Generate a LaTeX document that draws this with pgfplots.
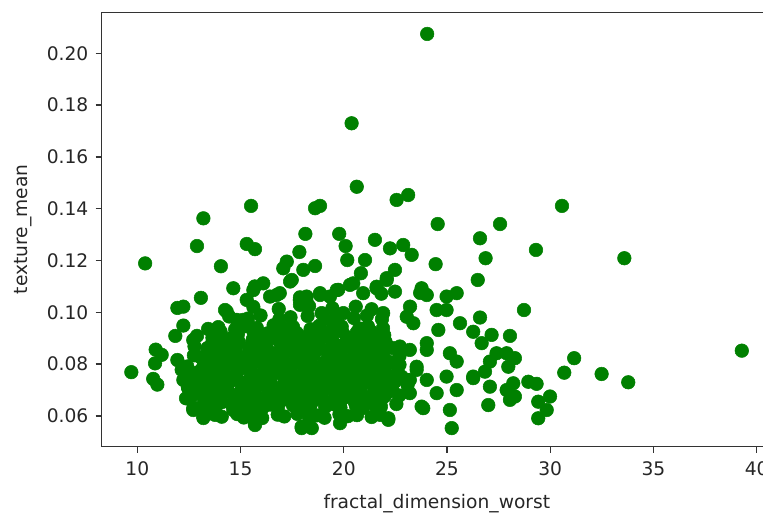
\documentclass[border=0pt]{standalone}
\usepackage{fontspec}
\setmainfont{DejaVu Sans}
\usepackage{pgfplots}
\pgfplotsset{compat=1.18}
\usepackage{pgfplotstable}
\definecolor{mplgreen}{HTML}{008000}

\pgfplotstableread{
x y
24.04 0.2075
20.38 0.1730
20.63 0.1485
22.56 0.1434
23.12 0.1453
15.51 0.1411
18.61 0.1402
18.85 0.1411
30.57 0.1411
13.20 0.1363
24.55 0.1341
27.57 0.1341
18.14 0.1303
19.78 0.1303
26.60 0.1286
21.51 0.1280
15.30 0.1264
15.70 0.1244
12.89 0.1256
20.09 0.1256
22.24 0.1247
22.88 0.1260
29.31 0.1241
17.85 0.1233
23.29 0.1222
26.87 0.1209
33.59 0.1209
20.17 0.1202
21.03 0.1202
17.24 0.1196
10.38 0.1189
24.45 0.1186
18.61 0.1179
14.05 0.1178
17.07 0.1170
22.48 0.1164
18.04 0.1164
20.83 0.1151
22.08 0.1132
26.49 0.1125
17.48 0.1125
17.40 0.1119
16.10 0.1112
20.30 0.1106
20.46 0.1112
22.08 0.1125
14.65 0.1093
15.62 0.1086
15.69 0.1100
21.59 0.1093
21.59 0.1099
23.77 0.1093
19.66 0.1086
19.73 0.1087
16.75 0.1067
16.43 0.1061
16.90 0.1074
18.85 0.1067
18.85 0.1074
19.33 0.1061
20.94 0.1074
21.82 0.1072
22.48 0.1080
23.70 0.1075
24.02 0.1067
24.98 0.1061
25.47 0.1074
17.88 0.1058
18.20 0.1061
13.08 0.1056
18.20 0.1041
15.30 0.1048
17.87 0.1048
17.88 0.1029
23.21 0.1022
12.23 0.1022
11.94 0.1017
24.50 0.1009
24.98 0.1009
14.25 0.1009
14.33 0.1003
28.73 0.1009
18.93 0.0997
19.98 0.0997
21.91 0.0997
23.05 0.0983
26.60 0.0980
14.81 0.0971
15.13 0.0971
23.37 0.0958
25.63 0.0958
12.23 0.0949
24.58 0.0932
26.27 0.0925
27.16 0.0913
28.05 0.0909
11.84 0.0909
12.71 0.0893
24.02 0.0881
26.68 0.0881
22.72 0.0868
10.89 0.0856
24.02 0.0855
23.20 0.0855
39.28 0.0852
25.14 0.0842
27.40 0.0842
27.89 0.0842
11.18 0.0836
28.29 0.0823
31.16 0.0823
11.94 0.0816
25.47 0.0810
27.08 0.0810
10.86 0.0803
27.97 0.0790
23.53 0.0790
23.53 0.0778
12.15 0.0778
26.84 0.0771
9.71 0.0769
30.68 0.0767
32.49 0.0762
26.27 0.0752
24.98 0.0752
22.80 0.0752
26.27 0.0746
10.77 0.0743
23.05 0.0739
23.20 0.0739
24.02 0.0739
12.23 0.0739
29.34 0.0724
28.94 0.0732
33.78 0.0730
28.21 0.0726
10.97 0.0721
12.47 0.0707
27.08 0.0713
27.89 0.0700
25.47 0.0700
24.50 0.0688
23.20 0.0688
28.29 0.0675
29.99 0.0675
12.36 0.0668
28.05 0.0662
29.42 0.0655
27.00 0.0642
23.77 0.0636
23.85 0.0630
25.14 0.0623
29.83 0.0623
12.71 0.0623
12.71 0.0630
13.52 0.0610
15.13 0.0610
14.65 0.0623
13.20 0.0592
13.20 0.0597
22.16 0.0591
22.16 0.0585
29.42 0.0591
19.82 0.0572
15.70 0.0565
15.69 0.0572
17.96 0.0553
17.96 0.0559
18.45 0.0553
25.23 0.0553
13.77 0.0604
14.09 0.0597
14.84 0.0607
15.16 0.0594
15.72 0.0601
16.05 0.0592
16.80 0.0605
17.12 0.0598
17.75 0.0608
18.32 0.0595
18.68 0.0602
19.07 0.0593
19.79 0.0606
20.20 0.0599
20.64 0.0603
21.35 0.0596
21.77 0.0604
12.91 0.0630
13.47 0.0643
13.80 0.0636
14.55 0.0646
14.87 0.0633
15.50 0.0640
16.07 0.0631
16.43 0.0644
16.82 0.0637
17.54 0.0641
17.95 0.0634
18.39 0.0642
19.10 0.0635
19.52 0.0645
19.84 0.0632
20.59 0.0639
20.91 0.0630
21.47 0.0643
21.80 0.0636
22.55 0.0646
12.65 0.0678
13.22 0.0669
13.58 0.0682
13.97 0.0675
14.69 0.0679
15.10 0.0672
15.54 0.0680
16.25 0.0673
16.67 0.0683
16.99 0.0670
17.74 0.0677
18.06 0.0668
18.62 0.0681
18.95 0.0674
19.70 0.0684
20.02 0.0671
20.65 0.0678
21.22 0.0669
21.58 0.0682
21.97 0.0675
22.69 0.0679
12.45 0.0711
12.89 0.0721
13.60 0.0708
14.02 0.0715
14.34 0.0706
15.09 0.0719
15.41 0.0712
15.97 0.0722
16.30 0.0709
17.05 0.0716
17.37 0.0707
18.00 0.0720
18.57 0.0713
18.93 0.0717
19.32 0.0710
20.04 0.0718
20.45 0.0711
20.89 0.0721
21.60 0.0708
22.02 0.0715
22.34 0.0706
23.09 0.0719
12.50 0.0747
12.82 0.0754
13.45 0.0745
14.02 0.0758
14.38 0.0751
14.77 0.0755
15.49 0.0748
15.90 0.0756
16.34 0.0749
17.05 0.0759
17.47 0.0746
17.79 0.0753
18.54 0.0744
18.86 0.0757
19.42 0.0750
19.75 0.0760
20.50 0.0747
20.82 0.0754
21.45 0.0745
22.02 0.0758
22.38 0.0751
12.42 0.0791
13.14 0.0782
13.55 0.0795
13.99 0.0788
14.70 0.0798
15.12 0.0785
15.44 0.0792
16.19 0.0783
16.51 0.0796
17.07 0.0789
17.40 0.0793
18.15 0.0786
18.47 0.0794
19.10 0.0787
19.67 0.0797
20.03 0.0784
20.42 0.0791
21.14 0.0782
21.55 0.0795
21.99 0.0788
22.70 0.0798
12.74 0.0834
13.06 0.0827
13.62 0.0831
13.95 0.0824
14.70 0.0832
15.02 0.0825
15.65 0.0835
16.22 0.0822
16.58 0.0829
16.97 0.0820
17.69 0.0833
18.10 0.0826
18.54 0.0836
19.25 0.0823
19.67 0.0830
19.99 0.0821
20.74 0.0834
21.06 0.0827
21.62 0.0831
21.95 0.0824
22.70 0.0832
12.77 0.0869
13.40 0.0862
13.97 0.0870
14.33 0.0863
14.72 0.0873
15.44 0.0860
15.85 0.0867
16.29 0.0858
17.00 0.0871
17.42 0.0864
17.74 0.0874
18.49 0.0861
18.81 0.0868
19.37 0.0859
19.70 0.0872
20.45 0.0865
20.77 0.0869
21.40 0.0862
21.97 0.0870
22.33 0.0863
12.89 0.0909
13.64 0.0902
13.96 0.0912
14.52 0.0899
14.85 0.0906
15.60 0.0897
15.92 0.0910
16.55 0.0903
17.12 0.0907
17.48 0.0900
17.87 0.0908
18.59 0.0901
19.00 0.0911
19.44 0.0898
20.15 0.0905
20.57 0.0896
20.89 0.0909
21.64 0.0902
21.96 0.0912
13.43 0.0936
13.92 0.0943
14.74 0.0934
15.25 0.0947
15.79 0.0940
16.60 0.0950
17.12 0.0937
17.54 0.0944
18.39 0.0935
18.81 0.0948
19.47 0.0941
19.90 0.0945
20.75 0.0938
21.17 0.0946
21.90 0.0939
14.45 0.0984
15.36 0.0976
15.97 0.0988
16.88 0.0973
17.42 0.0981
18.25 0.0986
19.08 0.0975
19.63 0.0983
20.49 0.0978
21.12 0.0987
21.85 0.0974
15.62 0.1021
16.85 0.1013
18.32 0.1024
19.45 0.1016
20.58 0.1022
21.35 0.1012
13.42 0.0660
14.08 0.0653
14.73 0.0662
15.36 0.0655
16.04 0.0659
16.62 0.0651
17.27 0.0663
17.93 0.0656
18.57 0.0661
19.24 0.0652
19.86 0.0660
20.53 0.0654
21.14 0.0662
21.78 0.0657
13.13 0.0691
13.76 0.0699
14.42 0.0692
15.04 0.0700
15.68 0.0689
16.33 0.0697
16.96 0.0693
17.63 0.0701
18.27 0.0690
18.92 0.0698
19.54 0.0694
20.17 0.0699
20.83 0.0691
21.47 0.0697
22.18 0.0693
13.28 0.0737
13.93 0.0729
14.57 0.0736
15.22 0.0730
15.84 0.0738
16.47 0.0728
17.16 0.0735
17.81 0.0731
18.42 0.0739
19.07 0.0729
19.73 0.0734
20.31 0.0738
21.02 0.0730
21.68 0.0736
22.47 0.0732
12.93 0.0768
13.57 0.0775
14.22 0.0767
14.86 0.0774
15.53 0.0769
16.12 0.0776
16.78 0.0766
17.43 0.0773
18.06 0.0770
18.72 0.0777
19.33 0.0767
20.01 0.0774
20.62 0.0768
21.27 0.0775
21.93 0.0770
22.58 0.0766
13.22 0.0812
13.83 0.0805
14.47 0.0813
15.13 0.0806
15.77 0.0811
16.42 0.0804
17.08 0.0814
17.68 0.0807
18.33 0.0812
19.02 0.0805
19.58 0.0810
20.24 0.0813
20.87 0.0806
21.52 0.0811
22.28 0.0807
13.48 0.0850
14.12 0.0843
14.78 0.0851
15.42 0.0844
16.07 0.0849
16.71 0.0842
17.33 0.0852
17.98 0.0845
18.63 0.0850
19.22 0.0843
19.88 0.0849
20.53 0.0846
21.17 0.0851
21.82 0.0844
13.63 0.0881
14.27 0.0889
14.93 0.0883
15.58 0.0888
16.23 0.0880
16.88 0.0887
17.52 0.0882
18.13 0.0890
18.78 0.0884
19.42 0.0886
20.08 0.0881
20.72 0.0889
21.33 0.0883
22.02 0.0887
14.03 0.0926
14.88 0.0920
15.62 0.0927
16.32 0.0919
17.01 0.0925
17.72 0.0921
18.48 0.0928
19.21 0.0920
19.92 0.0926
20.63 0.0922
21.31 0.0927
}\datatable

\begin{document}
\begin{tikzpicture}
\begin{axis}[
  at={(0,0)}, anchor=south west,
  scale only axis, width=502.7pt, height=325.8pt,
  xmin=8.276, xmax=40.74, ymin=0.04815, ymax=0.21587,
  axis line style={black!80, line width=1pt},
  tick style={black!80, line width=1pt},
  major tick length=4.5pt,
  tick align=outside,
  xtick pos=bottom, ytick pos=left,
  xtick={10,15,20,25,30,35,40},
  ytick={0.06,0.08,0.10,0.12,0.14,0.16,0.18,0.20},
  scaled y ticks=false,
  /pgf/number format/assume math mode=true,
  yticklabel style={/pgf/number format/fixed, /pgf/number format/fixed zerofill, /pgf/number format/precision=2, xshift=-2pt},
  xticklabel style={yshift=-3.5pt},
  ticklabel style={font=\fontsize{14}{16}\selectfont, text=black!85},
  label style={font=\fontsize{14}{16}\selectfont, text=black!85},
  xlabel={fractal\_dimension\_worst},
  ylabel={texture\_mean},
  xlabel style={at={(axis description cs:0.5,-0.1433)}, anchor=base},
  ylabel style={at={(axis description cs:-0.110,0.5)}, anchor=base},
  clip=false,
]
\addplot[only marks, mark=*, mark size=5.1pt, color=mplgreen, mark options={fill=mplgreen, draw=none}] table {\datatable};
\end{axis}
\pgfresetboundingbox
\useasboundingbox (-76.3pt,-50.5pt) rectangle (496pt,335pt);
\end{tikzpicture}
\end{document}
